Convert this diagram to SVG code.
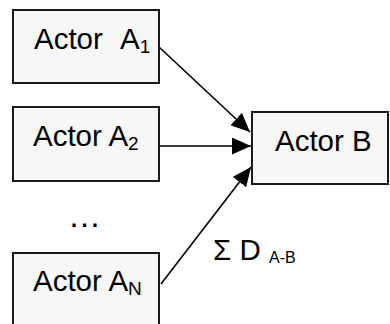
<svg xmlns="http://www.w3.org/2000/svg" width="390" height="324" viewBox="0 0 390 324">
<defs>
<style>
.box{fill:#f7f7f7;stroke:#1a1a1a;stroke-width:2}
.t{font-family:"Liberation Sans",Arial,sans-serif;font-size:29.5px;fill:#000}
.s{font-size:19px}
.c{stroke:#000;stroke-width:1.6;fill:none}
</style>
<marker id="ah" viewBox="0 0 19 17" refX="19" refY="8.5" markerWidth="19" markerHeight="17" markerUnits="userSpaceOnUse" orient="auto">
<path d="M0,0 L19,8.5 L0,17 Z" fill="#000"/>
</marker>
</defs>
<rect width="390" height="324" fill="#fff"/>
<g id="connectors">
<line class="c" x1="159" y1="47" x2="250" y2="132" marker-end="url(#ah)"/>
<line class="c" x1="160" y1="146" x2="251" y2="146" marker-end="url(#ah)"/>
<line class="c" x1="161" y1="284" x2="251" y2="167" marker-end="url(#ah)"/>
</g>
<g id="actorA1">
<rect class="box" x="13" y="10" width="146" height="73"/>
<text class="t" x="34" y="49">Actor<tspan x="120">A</tspan><tspan class="s" y="53">1</tspan></text>
</g>
<g id="actorA2">
<rect class="box" x="13" y="107" width="146" height="74"/>
<text class="t" x="33" y="146">Actor A<tspan class="s" y="150">2</tspan></text>
</g>
<g id="dots">
<text class="t" x="68" y="227" style="font-size:33px">…</text>
</g>
<g id="actorAN">
<rect class="box" x="13" y="253" width="146" height="80"/>
<text class="t" x="33" y="291">Actor A<tspan class="s" y="295">N</tspan></text>
</g>
<g id="actorB">
<rect class="box" x="252" y="112" width="136" height="72"/>
<text class="t" x="275" y="151">Actor B</text>
</g>
<g id="label">
<text class="t" x="213" y="260">Σ D<tspan x="269" y="263" style="font-size:16px">A-B</tspan></text>
</g>
</svg>
